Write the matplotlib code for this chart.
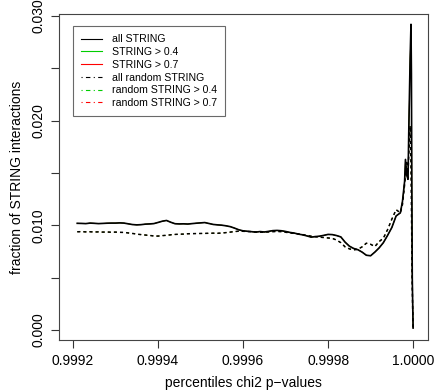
import numpy as np
import matplotlib
matplotlib.use('Agg')
import matplotlib.pyplot as plt
from matplotlib.lines import Line2D

plt.rcParams['font.family'] = ['Liberation Sans', 'DejaVu Sans']
plt.rcParams['lines.scale_dashes'] = False   # dash lengths in points

# ── data ─────────────────────────────────────────────────────────────────────
# percentiles of chi2 p-values: regular grid part + dense tail near 1.0
pct_grid = [round(0.99921 + 0.00001 * k, 5) for k in range(77)]
pct_tail = [0.999975, 0.99998, 0.999982, 0.999985, 0.999988, 0.99999,
            0.999993, 0.999995, 0.999996, 0.999997, 0.999998, 1.0]
percentiles = np.array(pct_grid + pct_tail)

# fraction of STRING interactions (x 1e-3)
all_string = [
    10.20, 10.19, 10.17, 10.22, 10.20, 10.17, 10.19, 10.21, 10.22, 10.22,
    10.24, 10.22, 10.15, 10.08, 10.05, 10.07, 10.12, 10.14, 10.17, 10.28,
    10.40, 10.47, 10.30, 10.16, 10.14, 10.15, 10.13, 10.17, 10.21, 10.24,
    10.27, 10.18, 10.09, 10.05, 10.02, 9.96, 9.88, 9.74, 9.58, 9.48,
    9.44, 9.40, 9.36, 9.41, 9.37, 9.43, 9.50, 9.52, 9.49, 9.42,
    9.33, 9.27, 9.17, 9.10, 9.00, 8.88, 8.93, 8.97, 9.05, 9.14,
    9.12, 9.03, 8.90, 8.40, 8.02, 7.80, 7.68, 7.45, 7.15, 7.10,
    7.45, 7.85, 8.35, 9.05, 9.80, 10.90, 11.20,
    12.30, 14.20, 16.30, 14.80, 14.40, 19.50, 26.00, 29.20, 24.50, 13.50,
    5.00, 0.20,
]
all_random = [
    9.39, 9.40, 9.38, 9.39, 9.37, 9.38, 9.36, 9.37, 9.35, 9.36,
    9.34, 9.33, 9.28, 9.23, 9.17, 9.12, 9.08, 9.04, 8.99, 8.98,
    9.02, 9.06, 9.10, 9.14, 9.16, 9.17, 9.20, 9.21, 9.22, 9.23,
    9.24, 9.25, 9.26, 9.25, 9.27, 9.31, 9.36, 9.41, 9.45, 9.44,
    9.42, 9.40, 9.37, 9.35, 9.36, 9.38, 9.40, 9.42, 9.40, 9.35,
    9.28, 9.24, 9.19, 9.12, 9.04, 8.97, 8.92, 8.88, 8.84, 8.80,
    8.76, 8.60, 8.35, 7.95, 7.76, 7.66, 7.72, 7.95, 8.30, 8.20,
    7.98, 8.45, 8.78, 9.60, 10.60, 11.50, 11.20,
    12.00, 13.90, 14.80, 16.00, 15.00, 17.00, 19.50, 16.00, 12.00, 8.00,
    4.00, 0.10,
]
# thresholded sets coincide with the full sets at this resolution
string_04 = all_string
string_07 = all_string
random_04 = all_random
random_07 = all_random

labels = ['all STRING', 'STRING > 0.4', 'STRING > 0.7',
          'all random STRING', 'random STRING > 0.4', 'random STRING > 0.7']
colors = ['black', '#00cd00', 'red', 'black', '#00cd00', 'red']

# ── plot ──────────────────────────────────────────────────────────────────────
fig = plt.figure(figsize=(4.40, 3.91), dpi=100)
ax = fig.add_axes([0.134, 0.130, 0.839, 0.834])

DOTDASH = (0, (0.8, 2.4, 3.2, 2.4))
DASHED = (0, (2.2, 2.2))
# coloured subsets first (thin), black full sets on top hide them
for vals, c in ((string_07, 'red'), (string_04, '#00cd00')):
    ax.plot(percentiles, np.array(vals) * 1e-3, color=c, lw=0.5)
for vals, c in ((random_07, 'red'), (random_04, '#00cd00')):
    ax.plot(percentiles, np.array(vals) * 1e-3, color=c, ls=DASHED, lw=0.5)
ax.plot(percentiles, np.array(all_random) * 1e-3, color='black',
        ls=DASHED, lw=1.1)
ax.plot(percentiles, np.array(all_string) * 1e-3, color='black', lw=1.2)

ax.set_xlim(0.999167, 1.0000353)
ax.set_ylim(-0.00096, 0.03018)
ax.set_xticks([0.9992, 0.9994, 0.9996, 0.9998, 1.0])
ax.set_xticklabels(['0.9992', '0.9994', '0.9996', '0.9998', '1.0000'])
ax.set_yticks(np.arange(0, 0.0301, 0.005))
ax.set_yticklabels(['0.000', '', '0.010', '', '0.020', '', '0.030'],
                   rotation=90, va='center')
ax.tick_params(axis='both', length=6, width=0.8, color='#333333',
               labelsize=10, pad=4)
for s in ax.spines.values():
    s.set_color('#444444')
    s.set_linewidth(0.8)

ax.set_xlabel('percentiles chi2 p\u2212values', fontsize=10, labelpad=6)
ax.set_ylabel('fraction of STRING interactions', fontsize=10, labelpad=5)

handles = [Line2D([], [], color=c, lw=0.8, ls='-' if i < 3 else DOTDASH)
           for i, c in enumerate(colors)]
leg = ax.legend(handles, labels, loc='upper left', fontsize=7.6,
                bbox_to_anchor=(0.037, 0.962), frameon=True, fancybox=False,
                handlelength=2.0, handletextpad=0.95, labelspacing=0.26,
                borderpad=0.75, borderaxespad=0)
leg.get_frame().set_edgecolor('#444444')
leg.get_frame().set_linewidth(0.8)

fig.savefig('out.png', dpi=100)
